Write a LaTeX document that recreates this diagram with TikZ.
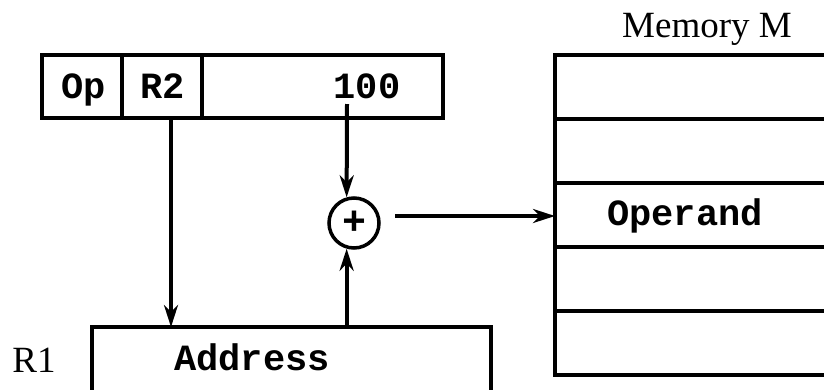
\documentclass[tikz,border=0pt]{standalone}
\usepackage{fontspec}
\setmainfont{Liberation Serif}
\setmonofont{Liberation Mono}
\usetikzlibrary{arrows.meta}
\begin{document}
\begin{tikzpicture}[x=1pt,y=-1pt,
  box/.style={draw,line width=4pt,inner sep=0pt,outer sep=0pt,anchor=north west},
  mono/.style={font=\fontsize{37}{40}\selectfont\ttfamily\bfseries,anchor=base,inner sep=0pt},
  serif/.style={font=\fontsize{37}{40}\selectfont,anchor=base,inner sep=0pt},
  arr/.style={line width=4pt,-{Stealth[length=22pt,width=14pt,inset=7pt]}}]
\useasboundingbox (0,0) rectangle (824,389);
% instruction
\node[box,minimum width=80pt,minimum height=63pt] (op) at (42,55) {};
\node[box,minimum width=80pt,minimum height=63pt] (r2) at (122,55) {};
\node[box,minimum width=241pt,minimum height=63pt] (disp) at (202,55) {};
\node[mono] (optxt) at (84,98) {Op};
\node[mono] (r2txt) at (162.5,98) {R2};
\node[mono] (disptxt) at (367,98) {100};
% memory
\foreach \i in {0,...,4}
  \node[box,minimum width=285pt,minimum height=64pt] (m\i) at ({555},{55+64*\i}) {};
\node[serif] (memtxt) at (707,37) {Memory M};
\node[mono] (opdtxt) at (685,225) {Operand};
% register
\node[box,minimum width=399pt,minimum height=100pt] (addr) at (92,327) {};
\node[mono] (addrtxt) at (252,370) {Address};
\node[serif] (r1txt) at (34,372) {R1};
% adder
\node[draw,circle,line width=3.5pt,minimum size=50pt,inner sep=0pt,
      font=\fontsize{40}{40}\selectfont\ttfamily\bfseries] (sum) at (354,223) {+};
% connectors
\coordinate (r2out) at ([xshift=9pt]r2.south);
\draw[arr] (r2out) -- (r2out |- addr.north);
\coordinate (d100) at (347,104);
\draw[arr] (d100) -- (sum.106);
\draw[arr] (sum.254 |- addr.north) -- (sum.254);
\coordinate (sout) at (395,216);
\draw[arr] (sout) -- (sout -| m2.west);
\end{tikzpicture}
\end{document}
